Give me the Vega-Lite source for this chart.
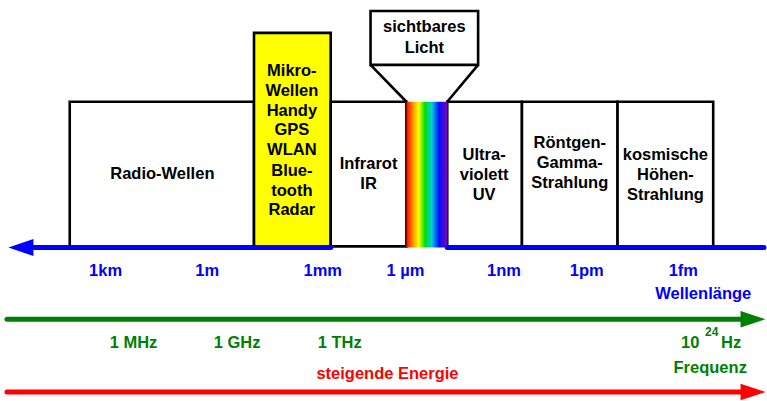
{
  "$schema": "https://vega.github.io/schema/vega-lite/v6.json",
  "width": 767,
  "height": 401,
  "autosize": {"type": "fit", "contains": "padding"},
  "padding": 0,
  "background": "#ffffff",
  "config": {"view": {"stroke": null}},
  "datasets": {
    "boxes": [
      {"name": "Radio", "x": 70, "x2": 255, "y": 102, "y2": 248, "kind": "plain"},
      {"name": "Mikro", "x": 255, "x2": 332, "y": 33, "y2": 248, "kind": "mikro"},
      {"name": "Infrarot", "x": 332, "x2": 408, "y": 102, "y2": 247, "kind": "plain"},
      {"name": "UV", "x": 449, "x2": 524, "y": 102, "y2": 248, "kind": "plain"},
      {"name": "Roentgen", "x": 524, "x2": 620, "y": 102, "y2": 248, "kind": "plain"},
      {"name": "kosmisch", "x": 620, "x2": 716, "y": 102, "y2": 248, "kind": "plain"},
      {"name": "sichtbar", "x": 372, "x2": 480, "y": 11, "y2": 65, "kind": "plain"}
    ],
    "rainbow": [
      {"name": "Licht", "x": 408, "x2": 449, "y": 102, "y2": 248}
    ],
    "axes": [
      {"g": "wl", "x": 20, "x2": 332, "y": 248},
      {"g": "wl", "x": 449, "x2": 767, "y": 248},
      {"g": "fq", "x": 7, "x2": 750, "y": 320},
      {"g": "en", "x": 7, "x2": 750, "y": 393}
    ],
    "funnel": [
      {"x": 372, "y": 65, "x2": 408, "y2": 102},
      {"x": 480, "y": 65, "x2": 449, "y2": 102}
    ],
    "heads": [
      {"g": "wl", "dir": "left", "x": 21, "y": 248},
      {"g": "fq", "dir": "right", "x": 756, "y": 320},
      {"g": "en", "dir": "right", "x": 756, "y": 393}
    ],
    "labels": [
      {"t": "Radio-Wellen", "x": 163, "y": 174, "g": "k"},
      {"t": "Mikro-", "x": 293, "y": 71, "g": "k"},
      {"t": "Wellen", "x": 293, "y": 91, "g": "k"},
      {"t": "Handy", "x": 293, "y": 111, "g": "k"},
      {"t": "GPS", "x": 293, "y": 130, "g": "k"},
      {"t": "WLAN", "x": 293, "y": 150, "g": "k"},
      {"t": "Blue-", "x": 293, "y": 171, "g": "k"},
      {"t": "tooth", "x": 293, "y": 191, "g": "k"},
      {"t": "Radar", "x": 293, "y": 211, "g": "k"},
      {"t": "Infrarot", "x": 370, "y": 164, "g": "k"},
      {"t": "IR", "x": 370, "y": 184, "g": "k"},
      {"t": "Ultra-", "x": 486, "y": 155, "g": "k"},
      {"t": "violett", "x": 486, "y": 175, "g": "k"},
      {"t": "UV", "x": 486, "y": 195, "g": "k"},
      {"t": "Röntgen-", "x": 572, "y": 143, "g": "k"},
      {"t": "Gamma-", "x": 572, "y": 163, "g": "k"},
      {"t": "Strahlung", "x": 572, "y": 183, "g": "k"},
      {"t": "kosmische", "x": 668, "y": 155, "g": "k"},
      {"t": "Höhen-", "x": 668, "y": 175, "g": "k"},
      {"t": "Strahlung", "x": 668, "y": 195, "g": "k"},
      {"t": "sichtbares", "x": 426, "y": 27, "g": "k"},
      {"t": "Licht", "x": 426, "y": 48, "g": "k"},
      {"t": "1km", "x": 106, "y": 272, "g": "wl"},
      {"t": "1m", "x": 208, "y": 272, "g": "wl"},
      {"t": "1mm", "x": 324, "y": 272, "g": "wl"},
      {"t": "1 µm", "x": 407, "y": 272, "g": "wl"},
      {"t": "1nm", "x": 506, "y": 272, "g": "wl"},
      {"t": "1pm", "x": 589, "y": 272, "g": "wl"},
      {"t": "1fm", "x": 686, "y": 272, "g": "wl"},
      {"t": "Wellenlänge", "x": 706, "y": 295, "g": "wl"},
      {"t": "1 MHz", "x": 134, "y": 344, "g": "fq"},
      {"t": "1 GHz", "x": 238, "y": 344, "g": "fq"},
      {"t": "1 THz", "x": 341, "y": 344, "g": "fq"},
      {"t": "10", "x": 693, "y": 344, "g": "fq"},
      {"t": "Hz", "x": 734, "y": 344, "g": "fq"},
      {"t": "Frequenz", "x": 713, "y": 369, "g": "fq"},
      {"t": "steigende Energie", "x": 389, "y": 375, "g": "en"}
    ],
    "sup": [
      {"t": "24", "x": 714.5, "y": 333, "g": "fq"}
    ]
  },
  "layer": [
    {
      "data": {"name": "boxes"},
      "mark": {"type": "rect", "stroke": "#000000", "strokeWidth": 2.6},
      "encoding": {
        "x": {"field": "x", "type": "quantitative", "scale": {"domain": [0, 767], "nice": false, "zero": false}, "axis": null},
        "x2": {"field": "x2"},
        "y": {"field": "y", "type": "quantitative", "scale": {"domain": [0, 401], "nice": false, "zero": false, "reverse": true}, "axis": null},
        "y2": {"field": "y2"},
        "fill": {"field": "kind", "type": "nominal", "scale": {"domain": ["plain", "mikro"], "range": ["#ffffff", "#ffff00"]}, "legend": null}
      }
    },
    {
      "data": {"name": "rainbow"},
      "mark": {
        "type": "rect",
        "fill": {
          "gradient": "linear", "x1": 0, "y1": 0, "x2": 1, "y2": 0,
          "stops": [
            {"offset": 0, "color": "#ff0000"},
            {"offset": 0.15, "color": "#ff8c00"},
            {"offset": 0.3, "color": "#ffff00"},
            {"offset": 0.45, "color": "#00e000"},
            {"offset": 0.62, "color": "#00d0e0"},
            {"offset": 0.8, "color": "#0010ff"},
            {"offset": 1, "color": "#8000c0"}
          ]
        }
      },
      "encoding": {
        "x": {"field": "x", "type": "quantitative", "scale": {"domain": [0, 767], "nice": false, "zero": false}, "axis": null},
        "x2": {"field": "x2"},
        "y": {"field": "y", "type": "quantitative", "scale": {"domain": [0, 401], "nice": false, "zero": false, "reverse": true}, "axis": null},
        "y2": {"field": "y2"}
      }
    },
    {
      "data": {"name": "axes"},
      "mark": {"type": "rule", "strokeWidth": 5, "strokeCap": "round"},
      "encoding": {
        "x": {"field": "x", "type": "quantitative", "scale": {"domain": [0, 767], "nice": false, "zero": false}, "axis": null},
        "x2": {"field": "x2"},
        "y": {"field": "y", "type": "quantitative", "scale": {"domain": [0, 401], "nice": false, "zero": false, "reverse": true}, "axis": null},
        "color": {"field": "g", "type": "nominal", "scale": {"domain": ["k", "wl", "fq", "en"], "range": ["#000000", "#0000ff", "#008000", "#ff0000"]}, "legend": null}
      }
    },
    {
      "data": {"name": "funnel"},
      "mark": {"type": "rule", "strokeWidth": 2.6, "color": "#000000"},
      "encoding": {
        "x": {"field": "x", "type": "quantitative", "scale": {"domain": [0, 767], "nice": false, "zero": false}, "axis": null},
        "x2": {"field": "x2"},
        "y": {"field": "y", "type": "quantitative", "scale": {"domain": [0, 401], "nice": false, "zero": false, "reverse": true}, "axis": null},
        "y2": {"field": "y2"}
      }
    },
    {
      "data": {"name": "heads"},
      "mark": {"type": "point", "filled": true, "opacity": 1, "size": 625, "strokeWidth": 0},
      "encoding": {
        "x": {"field": "x", "type": "quantitative", "scale": {"domain": [0, 767], "nice": false, "zero": false}, "axis": null},
        "y": {"field": "y", "type": "quantitative", "scale": {"domain": [0, 401], "nice": false, "zero": false, "reverse": true}, "axis": null},
        "shape": {"field": "dir", "type": "nominal", "scale": {"domain": ["left", "right"], "range": ["M-1,0L1,-0.68L1,0.68Z", "M1,0L-1,-0.66L-1,0.66Z"]}, "legend": null},
        "color": {"field": "g", "type": "nominal", "scale": {"domain": ["k", "wl", "fq", "en"], "range": ["#000000", "#0000ff", "#008000", "#ff0000"]}, "legend": null}
      }
    },
    {
      "data": {"name": "labels"},
      "mark": {"type": "text", "font": "Liberation Sans", "fontWeight": "bold", "fontSize": 16.5, "align": "center", "baseline": "middle"},
      "encoding": {
        "x": {"field": "x", "type": "quantitative", "scale": {"domain": [0, 767], "nice": false, "zero": false}, "axis": null},
        "y": {"field": "y", "type": "quantitative", "scale": {"domain": [0, 401], "nice": false, "zero": false, "reverse": true}, "axis": null},
        "text": {"field": "t", "type": "nominal"},
        "color": {"field": "g", "type": "nominal", "scale": {"domain": ["k", "wl", "fq", "en"], "range": ["#000000", "#0000ff", "#008000", "#ff0000"]}, "legend": null}
      }
    },
    {
      "data": {"name": "sup"},
      "mark": {"type": "text", "font": "Liberation Sans", "fontWeight": "bold", "fontSize": 12, "align": "center", "baseline": "middle"},
      "encoding": {
        "x": {"field": "x", "type": "quantitative", "scale": {"domain": [0, 767], "nice": false, "zero": false}, "axis": null},
        "y": {"field": "y", "type": "quantitative", "scale": {"domain": [0, 401], "nice": false, "zero": false, "reverse": true}, "axis": null},
        "text": {"field": "t", "type": "nominal"},
        "color": {"field": "g", "type": "nominal", "scale": {"domain": ["k", "wl", "fq", "en"], "range": ["#000000", "#0000ff", "#008000", "#ff0000"]}, "legend": null}
      }
    }
  ]
}
